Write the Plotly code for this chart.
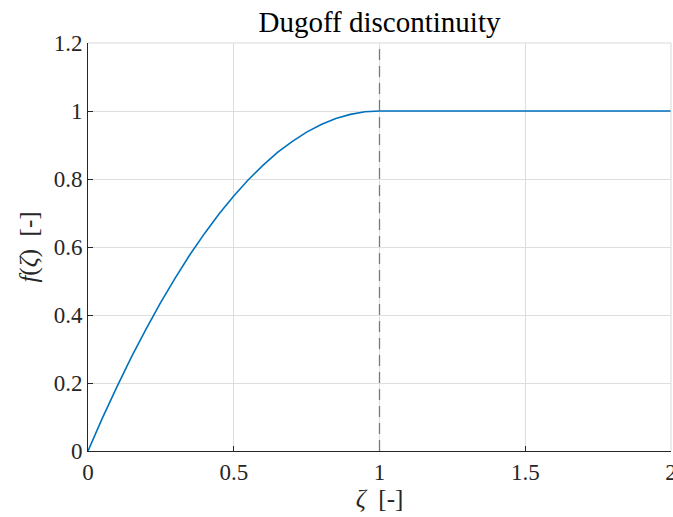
import plotly.graph_objects as go

# data
zeta = [0.0, 0.05, 0.1, 0.15, 0.2, 0.25, 0.3, 0.35, 0.4, 0.45, 0.5, 0.55, 0.6,
        0.65, 0.7, 0.75, 0.8, 0.85, 0.9, 0.95, 1.0, 1.5, 2.0]
f_zeta = [0.0, 0.098, 0.19, 0.278, 0.36, 0.438, 0.51, 0.578, 0.64, 0.698, 0.75,
          0.798, 0.84, 0.878, 0.91, 0.938, 0.96, 0.978, 0.99, 0.998, 1.0, 1.0, 1.0]
threshold = 1.0
x_ticks = [0, 0.5, 1, 1.5, 2]
x_tick_labels = ["0", "0.5", "1", "1.5", "2"]
y_ticks = [0, 0.2, 0.4, 0.6, 0.8, 1, 1.2]
y_tick_labels = ["0", "0.2", "0.4", "0.6", "0.8", "1", "1.2"]

FONT = "Liberation Serif, Times New Roman, DejaVu Serif, serif"
AX = "#262626"
GRID = "#dedede"

fig = go.Figure()
fig.add_trace(go.Scatter(x=zeta, y=f_zeta, mode="lines",
                         line=dict(color="#0072BD", width=1.6, shape="linear"),
                         showlegend=False, hoverinfo="skip"))

fig.add_vline(x=threshold, line=dict(color="#7a7a7a", width=1.3, dash="11px,6px"))

# light box on top and right
fig.add_shape(type="line", xref="paper", yref="paper", x0=0, x1=1, y0=1, y1=1,
              line=dict(color="#d9d9d9", width=1))
fig.add_shape(type="line", xref="paper", yref="paper", x0=1, x1=1, y0=0, y1=1,
              line=dict(color="#d9d9d9", width=1))

fig.update_layout(
    width=673, height=517,
    margin=dict(l=88, r=2, t=43, b=66),
    paper_bgcolor="white", plot_bgcolor="white",
    font=dict(family=FONT, color=AX, size=22),
    title=dict(text="Dugoff discontinuity", x=0.5, xanchor="center",
               xref="paper", y=1 - 22 / 517, yanchor="middle",
               font=dict(family=FONT, size=29, color="black")),
    xaxis=dict(range=[0, 2], tickvals=x_ticks, ticktext=x_tick_labels,
               showgrid=True, gridcolor=GRID, gridwidth=1,
               showline=True, linecolor=AX, linewidth=1,
               ticks="inside", ticklen=5, tickcolor=AX, zeroline=False,
               ticklabeloverflow="allow", automargin=False,
               tickfont=dict(size=23, family=FONT, color=AX),
               title=dict(text="<i>ζ</i>  [-]", standoff=4,
                          font=dict(size=25, family=FONT, color=AX))),
    yaxis=dict(range=[0, 1.2], tickvals=y_ticks, ticktext=y_tick_labels,
               showgrid=True, gridcolor=GRID, gridwidth=1,
               showline=True, linecolor=AX, linewidth=1,
               ticks="inside", ticklen=5, tickcolor=AX, zeroline=False,
               automargin=False,
               tickfont=dict(size=23, family=FONT, color=AX),
               title=dict(text="<i>f</i>(<i>ζ</i>)  [-]", standoff=8,
                          font=dict(size=25, family=FONT, color=AX))),
)

fig.write_html("out.html")
